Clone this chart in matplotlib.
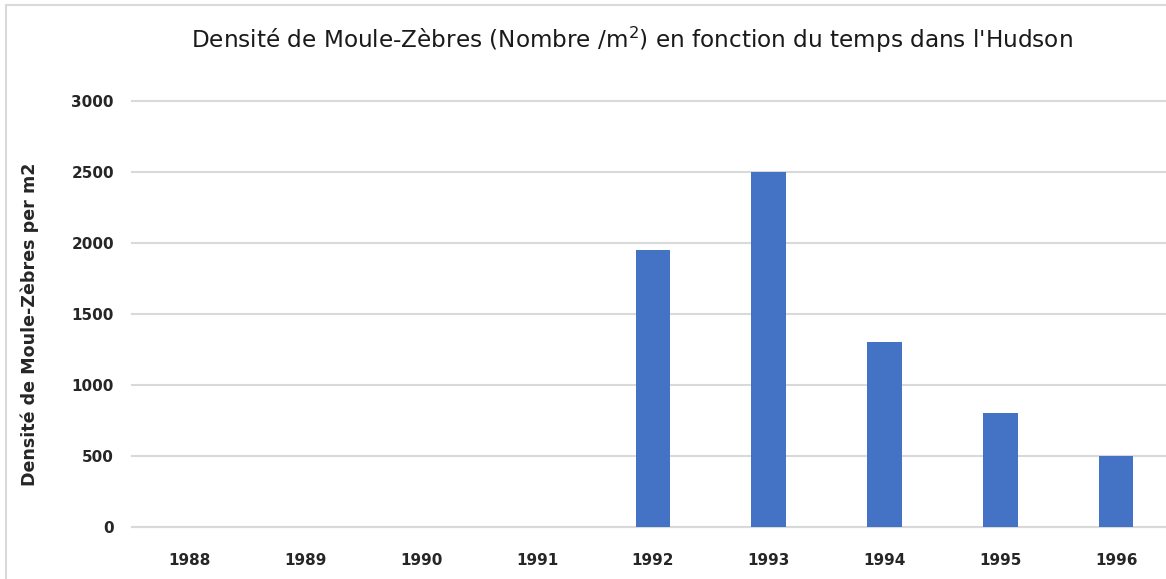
import matplotlib.pyplot as plt
from matplotlib.patches import Rectangle

years = ['1988', '1989', '1990', '1991', '1992', '1993', '1994', '1995', '1996']
density = [0, 0, 0, 0, 1950, 2500, 1300, 800, 500]
yticks = [0, 500, 1000, 1500, 2000, 2500, 3000]

plt.rcParams['font.family'] = ['DejaVu Sans']

W, H = 1166, 579
fig = plt.figure(figsize=(W / 100, H / 100), dpi=100)
fig.patch.set_facecolor('white')

# frame of the chart, cut off on the right and bottom
fig.patches.append(Rectangle((6 / W, -0.1), 1.2, 1 - 5 / H + 0.1, transform=fig.transFigure,
                             fill=False, edgecolor='#d9d9d9', linewidth=1.5))

left, right = 132 / W, 1174 / W
bottom, top = 1 - 527 / H, 1 - 100.7 / H
ax = fig.add_axes([left, bottom, right - left, top - bottom])

x = list(range(len(years)))
ax.bar(x, density, width=0.3, color='#4472C4', zorder=3)

ax.set_xlim(-0.5, len(years) - 0.5)
ax.set_ylim(0, 3000)
ax.set_yticks(yticks)
ax.set_xticks(x)
ax.set_xticklabels(years)
ax.yaxis.grid(True, color='#d9d9d9', linewidth=1.5, zorder=0)
ax.set_axisbelow(True)
for gl in ax.get_ygridlines():
    gl.set_clip_on(False)
for s in ['top', 'right', 'left']:
    ax.spines[s].set_visible(False)
ax.spines['bottom'].set_color('#d9d9d9')
ax.spines['bottom'].set_linewidth(1.5)
ax.tick_params(axis='both', length=0, labelsize=11, colors='#262626')
ax.tick_params(axis='y', pad=13)
ax.tick_params(axis='x', pad=19)
for lab in ax.get_xticklabels() + ax.get_yticklabels():
    lab.set_fontweight('bold')

fig.text(632 / W, 1 - 40 / H, "Densité de Moule-Zèbres (Nombre /m$^2$) en fonction du temps dans l'Hudson",
         ha='center', va='center', fontsize=16.7, color='#1a1a1a')
fig.text(30 / W, 1 - 324 / H, 'Densité de Moule-Zèbres per m2', rotation=90,
         ha='center', va='center', fontsize=12.6, fontweight='bold', color='#262626')

fig.savefig('out.png', dpi=100)
